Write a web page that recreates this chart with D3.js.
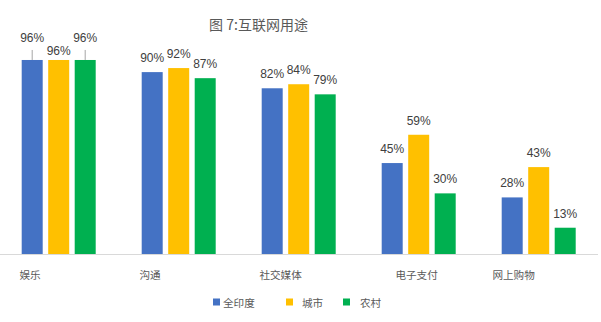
<!DOCTYPE html>
<html><head><meta charset="utf-8">
<script src="https://cdn.jsdelivr.net/npm/d3@7/dist/d3.min.js"></script>
<style>body{margin:0;background:#fff}svg{display:block}</style>
</head><body>
<svg id="c" width="601" height="322"></svg>
<script>
const title = "图 7:互联网用途";
const categories = ["娱乐", "沟通", "社交媒体", "电子支付", "网上购物"];
const seriesNames = ["全印度", "城市", "农村"];
const allIndia = [96, 90, 82, 45, 28];
const urban = [96, 92, 84, 59, 43];
const rural = [96, 87, 79, 30, 13];
const colors = ["#4472C4", "#FFC000", "#00B050"];

const seriesValues = [allIndia, urban, rural];
const svg = d3.select("#c");
const cjk = "'Noto Sans CJK SC', 'Noto Sans', sans-serif";
const num = "'Liberation Sans', Arial, sans-serif";

const x0 = d3.scaleBand().domain(categories).range([-1.3, 598.7]).paddingInner(0).paddingOuter(0);
const y = d3.scaleLinear().domain([0, 100]).range([254, 51.9]);
const groupW = 74;
const x1 = d3.scaleBand().domain(seriesNames).range([0, groupW]).paddingInner(11 / 53).paddingOuter(0);
const barW = x1.bandwidth();
const bandOffset = (x0.bandwidth() - groupW) / 2;

// axis line
svg.append("line").attr("x1", 0).attr("x2", 598).attr("y1", y(0) + 0.5).attr("y2", y(0) + 0.5)
  .attr("stroke", "#d9d9d9").attr("stroke-width", 1);

// title
svg.append("text").attr("x", 258.5).attr("y", 24).attr("text-anchor", "middle")
  .attr("dominant-baseline", "central").attr("font-family", cjk).attr("font-size", 14)
  .attr("fill", "#595959").text(title);

categories.forEach((cat, i) => {
  const gx = x0(cat) + bandOffset;
  const tops = seriesValues.map(s => y(s[i]));
  const allEqual = Math.abs(tops[0] - tops[1]) < 2 && Math.abs(tops[1] - tops[2]) < 2;
  seriesValues.forEach((s, j) => {
    const bx = gx + x1(seriesNames[j]);
    svg.append("rect").attr("x", bx).attr("y", y(s[i])).attr("width", barW)
      .attr("height", y(0) - y(s[i])).attr("fill", colors[j]);
    let ly = y(s[i]) - 10;
    if (allEqual) {
      if (j === 1) ly = y(s[i]) - 4.7;
      else {
        ly = y(s[i]) - 17.7;
        svg.append("line").attr("x1", bx + barW / 2).attr("x2", bx + barW / 2)
          .attr("y1", y(s[i]) - 10).attr("y2", y(s[i])).attr("stroke", "#a6a6a6").attr("stroke-width", 1);
      }
    }
    svg.append("text").attr("x", bx + barW / 2).attr("y", ly).attr("text-anchor", "middle")
      .attr("font-family", num).attr("font-size", 12).attr("fill", "#404040").text(s[i] + "%");
  });
});

// category labels (Excel placement)
const labelShift = {"电子支付": 16, "网上购物": -7};
categories.forEach(cat => {
  const lx = x0(cat) + bandOffset - 2.3 + (labelShift[cat] || 0);
  svg.append("text").attr("x", lx).attr("y", 274).attr("dominant-baseline", "central")
    .attr("font-family", cjk).attr("font-size", 10.6).attr("fill", "#595959").text(cat);
});

// legend
const legendX = [213, 286, 343];
const legendTX = [223, 302, 360];
seriesNames.forEach((n, j) => {
  svg.append("rect").attr("x", legendX[j]).attr("y", 298.5).attr("width", 7).attr("height", 7).attr("fill", colors[j]);
  svg.append("text").attr("x", legendTX[j]).attr("y", 302).attr("dominant-baseline", "central")
    .attr("font-family", cjk).attr("font-size", 10.6).attr("fill", "#595959").text(n);
});
</script>
</body></html>
